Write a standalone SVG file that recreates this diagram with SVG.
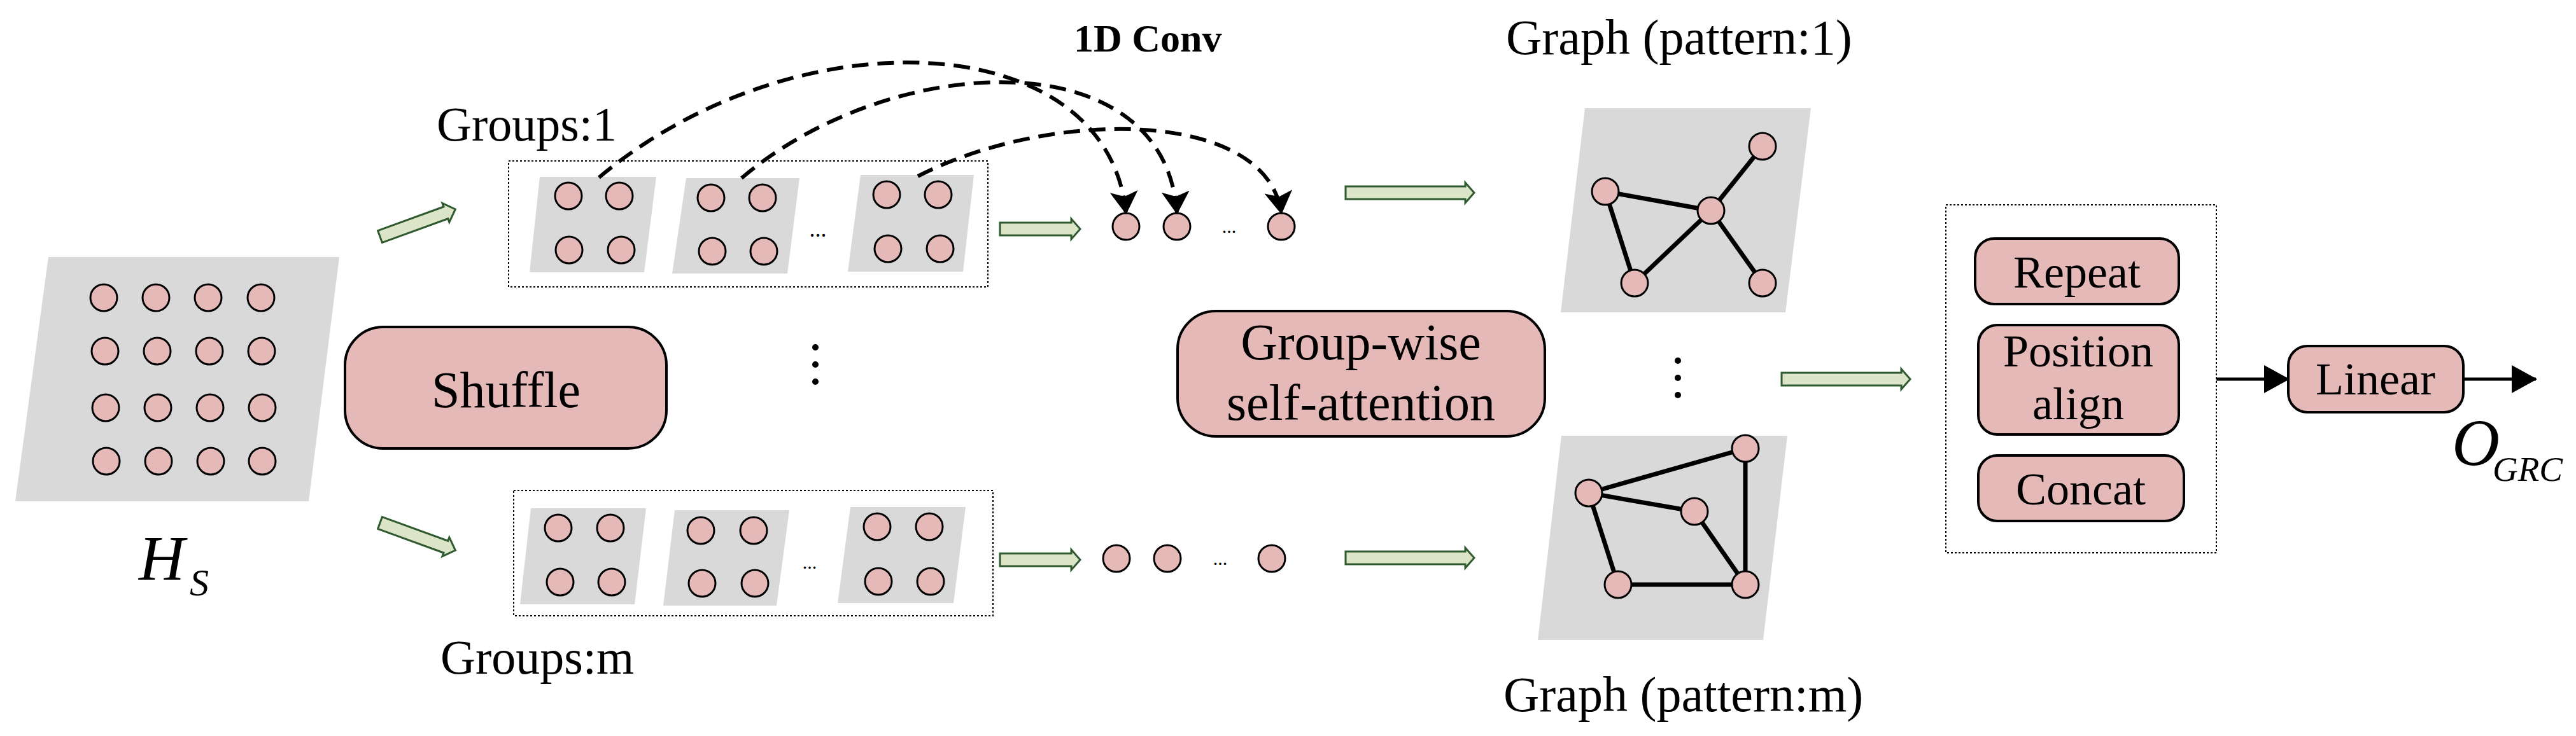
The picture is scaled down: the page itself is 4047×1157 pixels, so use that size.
<svg xmlns="http://www.w3.org/2000/svg" width="4047" height="1157" viewBox="0 0 4047 1157">
<defs>
<style>
.pan{fill:#d9d9d9}
.c{fill:#e5b9b7;stroke:#000;stroke-width:3}
.box{fill:#e5b9b7;stroke:#000;stroke-width:4}
.dot{fill:none;stroke:#000;stroke-width:2;stroke-dasharray:3 3}
.t{font-family:"Liberation Serif",serif;fill:#000}
.ga{fill:#dde5c8;stroke:#2f5a2f;stroke-width:3}
.e{stroke:#000;stroke-width:7}
.dash{fill:none;stroke:#000;stroke-width:6;stroke-dasharray:26 14}
.sol{stroke:#000;stroke-width:5}
</style>
<marker id="ah" markerWidth="10" markerHeight="10" refX="9" refY="5" orient="auto" markerUnits="userSpaceOnUse" viewBox="0 0 10 10" style="overflow:visible">
<path d="M0,0 L10,5 L0,10 L3,5 Z" fill="#000" transform="scale(1)"/>
</marker>
<marker id="ah2" markerWidth="36" markerHeight="44" refX="34" refY="22" orient="auto" markerUnits="userSpaceOnUse" viewBox="0 0 36 44">
<path d="M0,0 L36,22 L0,44 L8,22 Z" fill="#000"/>
</marker>
<marker id="ah3" markerWidth="40" markerHeight="44" refX="38" refY="22" orient="auto" markerUnits="userSpaceOnUse" viewBox="0 0 40 44">
<path d="M0,0 L40,22 L0,44 Z" fill="#000"/>
</marker>
</defs>

<g id="hs">
<polygon class="pan" points="76,404 533,404 485,788 24,788"/>
<g>
<circle class="c" cx="163" cy="468" r="21"/><circle class="c" cx="245" cy="468" r="21"/><circle class="c" cx="327" cy="468" r="21"/><circle class="c" cx="410" cy="468" r="21"/>
<circle class="c" cx="165" cy="552" r="21"/><circle class="c" cx="247" cy="552" r="21"/><circle class="c" cx="329" cy="552" r="21"/><circle class="c" cx="411" cy="552" r="21"/>
<circle class="c" cx="166" cy="641" r="21"/><circle class="c" cx="248" cy="641" r="21"/><circle class="c" cx="330" cy="641" r="21"/><circle class="c" cx="412" cy="641" r="21"/>
<circle class="c" cx="167" cy="725" r="21"/><circle class="c" cx="249" cy="725" r="21"/><circle class="c" cx="331" cy="725" r="21"/><circle class="c" cx="412" cy="725" r="21"/>
</g>
<text class="t" x="218" y="911" font-size="100" font-style="italic">H</text>
<text class="t" x="298" y="936" font-size="60" font-style="italic">S</text>
</g>

<g id="shuffle">
<rect class="box" x="542" y="514" width="505" height="191" rx="60"/>
<text class="t" x="795" y="640" font-size="80" text-anchor="middle">Shuffle</text>
</g>

<g id="groups1">
<text class="t" x="686" y="221" font-size="76">Groups:1</text>
<rect class="dot" x="799" y="253" width="753" height="198"/>
<polygon class="pan" points="848,278 1031,278 1012,428 832,428"/>
<polygon class="pan" points="1078,280 1256,280 1237,430 1056,430"/>
<polygon class="pan" points="1352,275 1530,275 1513,427 1332,427"/>
<circle class="c" cx="893" cy="308" r="21"/><circle class="c" cx="973" cy="308" r="21"/><circle class="c" cx="894" cy="393" r="21"/><circle class="c" cx="976" cy="393" r="21"/>
<circle class="c" cx="1117" cy="311" r="21"/><circle class="c" cx="1198" cy="311" r="21"/><circle class="c" cx="1119" cy="395" r="21"/><circle class="c" cx="1200" cy="395" r="21"/>
<circle class="c" cx="1393" cy="306" r="21"/><circle class="c" cx="1474" cy="306" r="21"/><circle class="c" cx="1395" cy="391" r="21"/><circle class="c" cx="1477" cy="391" r="21"/>
<text class="t" x="1285" y="372" font-size="36" text-anchor="middle">...</text>
</g>

<g id="seq1">
<circle class="c" cx="1769" cy="356" r="21"/><circle class="c" cx="1849" cy="356" r="21"/><circle class="c" cx="2013" cy="356" r="21"/>
<text class="t" x="1931" y="366" font-size="30" text-anchor="middle">...</text>
</g>

<g id="conv-label"><text class="t" x="1687" y="81" font-size="62" font-weight="bold">1D Conv</text></g>

<g id="vdots1">
<circle cx="1281" cy="546" r="5"/><circle cx="1281" cy="573" r="5"/><circle cx="1281" cy="600" r="5"/>
</g>

<g id="groupsm">
<rect class="dot" x="807" y="771" width="753" height="197"/>
<polygon class="pan" points="834,799 1015,799 997,950 817,950"/>
<polygon class="pan" points="1060,802 1240,802 1220,952 1042,952"/>
<polygon class="pan" points="1336,797 1517,797 1498,948 1316,948"/>
<circle class="c" cx="877" cy="830" r="21"/><circle class="c" cx="959" cy="830" r="21"/><circle class="c" cx="880" cy="915" r="21"/><circle class="c" cx="961" cy="915" r="21"/>
<circle class="c" cx="1101" cy="834" r="21"/><circle class="c" cx="1184" cy="834" r="21"/><circle class="c" cx="1103" cy="917" r="21"/><circle class="c" cx="1186" cy="917" r="21"/>
<circle class="c" cx="1378" cy="828" r="21"/><circle class="c" cx="1460" cy="828" r="21"/><circle class="c" cx="1380" cy="914" r="21"/><circle class="c" cx="1462" cy="914" r="21"/>
<text class="t" x="1272" y="894" font-size="30" text-anchor="middle">...</text>
<text class="t" x="692" y="1059" font-size="76">Groups:m</text>
</g>

<g id="seqm">
<circle class="c" cx="1754" cy="878" r="21"/><circle class="c" cx="1834" cy="878" r="21"/><circle class="c" cx="1998" cy="878" r="21"/>
<text class="t" x="1917" y="888" font-size="30" text-anchor="middle">...</text>
</g>

<g id="gsa">
<rect class="box" x="1850" y="489" width="577" height="197" rx="60"/>
<text class="t" x="2138" y="565" font-size="80" text-anchor="middle">Group-wise</text>
<text class="t" x="2138" y="660" font-size="80" text-anchor="middle">self-attention</text>
</g>

<g id="graph1">
<text class="t" x="2366" y="85" font-size="78">Graph (pattern:1)</text>
<polygon class="pan" points="2490,170 2845,170 2805,491 2452,491"/>
<line class="e" x1="2522" y1="301" x2="2688" y2="331"/>
<line class="e" x1="2688" y1="331" x2="2769" y2="230"/>
<line class="e" x1="2522" y1="301" x2="2568" y2="445"/>
<line class="e" x1="2568" y1="445" x2="2688" y2="331"/>
<line class="e" x1="2688" y1="331" x2="2769" y2="445"/>
<circle class="c" cx="2769" cy="230" r="21"/><circle class="c" cx="2522" cy="301" r="21"/><circle class="c" cx="2688" cy="331" r="21"/><circle class="c" cx="2568" cy="445" r="21"/><circle class="c" cx="2769" cy="445" r="21"/>
</g>

<g id="vdots2">
<circle cx="2636" cy="567" r="5"/><circle cx="2636" cy="594" r="5"/><circle cx="2636" cy="621" r="5"/>
</g>

<g id="graphm">
<polygon class="pan" points="2453,685 2808,685 2770,1006 2416,1006"/>
<line class="e" x1="2496" y1="775" x2="2742" y2="705"/>
<line class="e" x1="2496" y1="775" x2="2662" y2="804"/>
<line class="e" x1="2662" y1="804" x2="2742" y2="919"/>
<line class="e" x1="2742" y1="705" x2="2742" y2="919"/>
<line class="e" x1="2496" y1="775" x2="2542" y2="919"/>
<line class="e" x1="2542" y1="919" x2="2742" y2="919"/>
<circle class="c" cx="2742" cy="705" r="21"/><circle class="c" cx="2496" cy="775" r="21"/><circle class="c" cx="2662" cy="804" r="21"/><circle class="c" cx="2542" cy="919" r="21"/><circle class="c" cx="2742" cy="919" r="21"/>
<text class="t" x="2362" y="1118" font-size="78">Graph (pattern:m)</text>
</g>

<g id="combine">
<rect class="dot" x="3057" y="322" width="425" height="547"/>
<rect class="box" x="3103" y="375" width="320" height="103" rx="30"/>
<text class="t" x="3263" y="452" font-size="72" text-anchor="middle">Repeat</text>
<rect class="box" x="3108" y="511" width="315" height="172" rx="30"/>
<text class="t" x="3265" y="576" font-size="72" text-anchor="middle">Position</text>
<text class="t" x="3265" y="659" font-size="72" text-anchor="middle">align</text>
<rect class="box" x="3108" y="716" width="323" height="103" rx="30"/>
<text class="t" x="3269" y="793" font-size="72" text-anchor="middle">Concat</text>
</g>

<g id="linear">
<rect class="box" x="3595" y="544" width="275" height="104" rx="30"/>
<text class="t" x="3732" y="620" font-size="72" text-anchor="middle">Linear</text>
</g>

<g id="out">
<text class="t" x="3852" y="731" font-size="104" font-style="italic">O</text>
<text class="t" x="3916" y="756" font-size="55" font-style="italic">GRC</text>
</g>

<g id="connectors">
<polygon class="ga" transform="translate(597,372) rotate(-20)" points="0,-10 110,-10 110,-16 126,0 110,16 110,10 0,10"/>
<polygon class="ga" transform="translate(597,822) rotate(20)" points="0,-10 110,-10 110,-16 126,0 110,16 110,10 0,10"/>
<polygon class="ga" transform="translate(1571,360)" points="0,-10 112,-10 112,-16 126,0 112,16 112,10 0,10"/>
<polygon class="ga" transform="translate(1571,880)" points="0,-10 112,-10 112,-16 126,0 112,16 112,10 0,10"/>
<polygon class="ga" transform="translate(2114,303)" points="0,-10 188,-10 188,-16 202,0 188,16 188,10 0,10"/>
<polygon class="ga" transform="translate(2114,877)" points="0,-10 188,-10 188,-16 202,0 188,16 188,10 0,10"/>
<polygon class="ga" transform="translate(2799,596)" points="0,-10 188,-10 188,-16 202,0 188,16 188,10 0,10"/>
<path class="dash" d="M941,279 C1250,20 1740,40 1769,335" marker-end="url(#ah2)"/>
<path class="dash" d="M1165,280 C1400,80 1830,60 1849,335" marker-end="url(#ah2)"/>
<path class="dash" d="M1442,277 C1650,170 1990,170 2013,335" marker-end="url(#ah2)"/>
<line class="sol" x1="3482" y1="596" x2="3595" y2="596" marker-end="url(#ah3)"/>
<line class="sol" x1="3870" y1="596" x2="3984" y2="596" marker-end="url(#ah3)"/>
</g>
</svg>
